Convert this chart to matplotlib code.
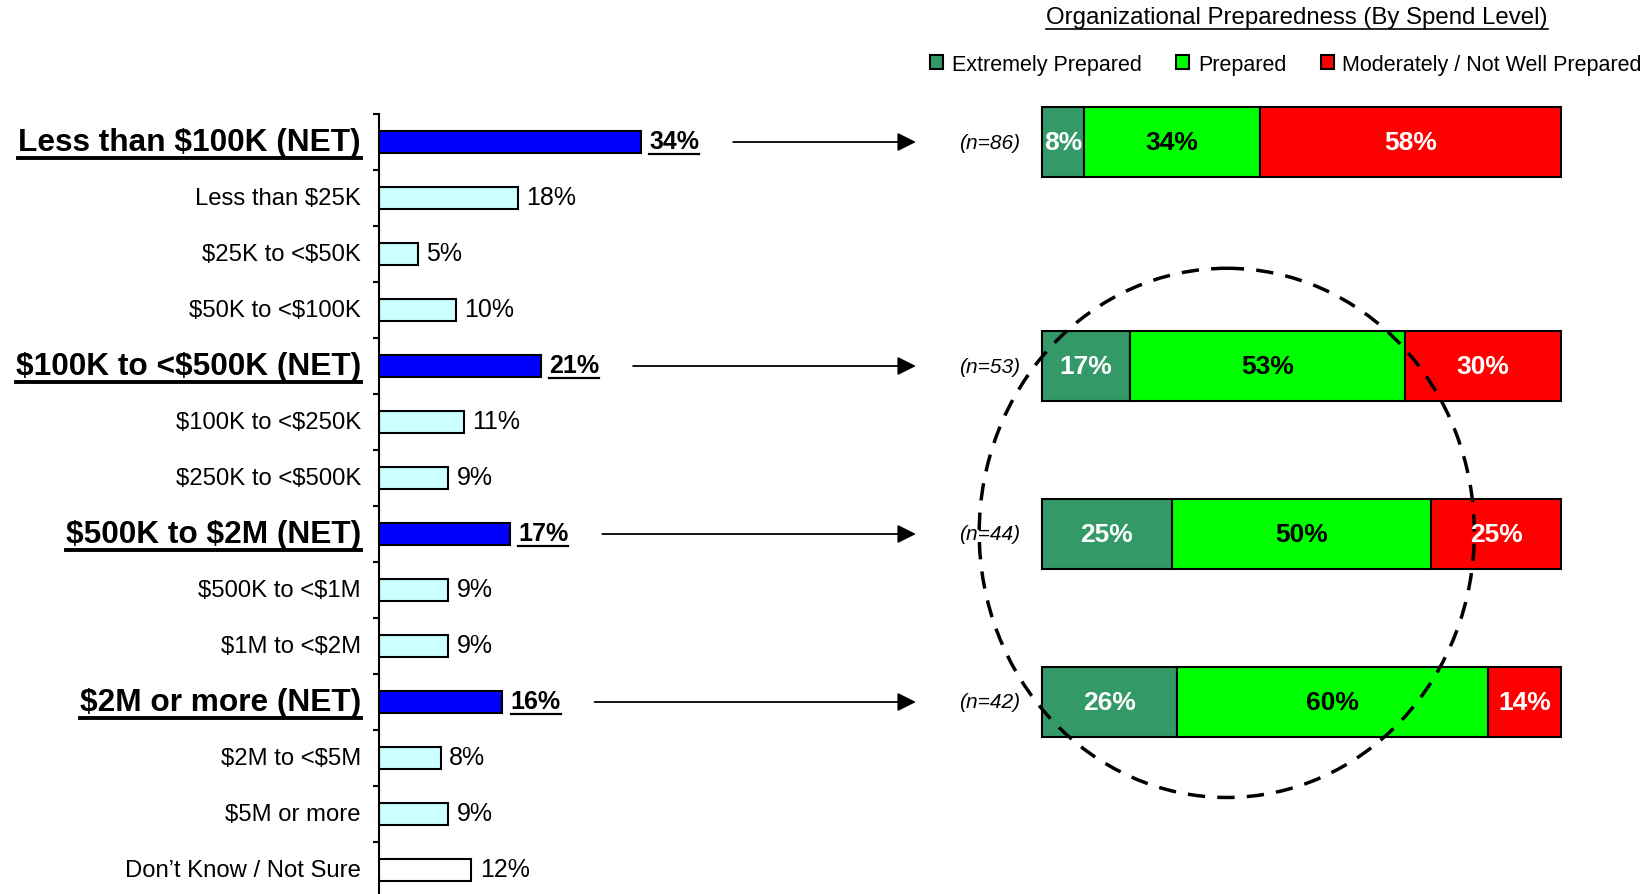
import matplotlib
matplotlib.use("Agg")
import matplotlib.pyplot as plt
from matplotlib.patches import Patch, Ellipse
from matplotlib.lines import Line2D

plt.rcParams['font.family'] = ['Liberation Sans', 'DejaVu Sans']
plt.rcParams['text.parse_math'] = False

# spend level breakdown (left panel)
spend_labels = ["Less than $100K (NET)", "Less than $25K", "$25K to <$50K", "$50K to <$100K",
                "$100K to <$500K (NET)", "$100K to <$250K", "$250K to <$500K",
                "$500K to $2M (NET)", "$500K to <$1M", "$1M to <$2M",
                "$2M or more (NET)", "$2M to <$5M", "$5M or more",
                "Don\u2019t Know / Not Sure"]
spend_values = [34, 18, 5, 10, 21, 11, 9, 17, 9, 9, 16, 8, 9, 12]
net_rows = [0, 4, 7, 10]

# preparedness by spend level (right panel)
sample_sizes = [86, 53, 44, 42]
extremely = [8, 17, 25, 26]
prepared = [34, 53, 50, 60]
moderately = [58, 30, 25, 14]
prep_names = ["Extremely Prepared", "Prepared", "Moderately / Not Well Prepared"]
prep_colors = ["#339966", "#00FF00", "#FF0000"]
prep_text = ["white", "black", "white"]

W, H = 1652, 895
fig = plt.figure(figsize=(W / 100, H / 100), dpi=100)

row_px = 56.0
first_row = 143
top_px = first_row - row_px / 2
ymax = (H - first_row) / row_px
ax_h = (H - top_px) / H

px_per_pct = 7.7
ax1 = fig.add_axes([379 / W, 0, 40 * px_per_pct / W, ax_h])
ax1.set_xlim(0, 40)
ax1.set_ylim(ymax, -0.5)

rows = list(range(len(spend_values)))
colors = []
for i in rows:
    if i in net_rows:
        colors.append("#0000FF")
    elif i == len(rows) - 1:
        colors.append("white")
    else:
        colors.append("#CCFFFF")
ax1.barh(rows, spend_values, height=0.4, color=colors, edgecolor="black", linewidth=1.5)

for s in ["top", "right", "bottom"]:
    ax1.spines[s].set_visible(False)
ax1.spines["left"].set_linewidth(1.5)
ax1.set_xticks([])
ax1.set_yticks([i - 0.5 for i in range(len(rows))])
ax1.set_yticklabels([])
ax1.tick_params(axis="y", direction="out", length=4, width=1.5)

underline = []
for i, (lab, v) in enumerate(zip(spend_labels, spend_values)):
    net = i in net_rows
    t = ax1.annotate(lab, xy=(0, i), xycoords=("axes fraction", "data"),
                     xytext=(-13, 0), textcoords="offset points",
                     ha="right", va="center",
                     fontsize=22.8 if net else 17.2, fontweight="bold" if net else "normal")
    v_t = ax1.annotate(f"{v}%", xy=(v, i), xytext=(6, 1), textcoords="offset points",
                       ha="left", va="center", fontsize=18,
                       fontweight="bold" if net else "normal")
    if net:
        underline.append((t, 2.8))
        underline.append((v_t, 1.6))

# stacked preparedness bars
ax2 = fig.add_axes([1042 / W, 0, 519 / W, ax_h])
ax2.set_xlim(0, 100)
ax2.set_ylim(ymax, -0.5)
ax2.axis("off")

segments = [extremely, prepared, moderately]
left = [0] * len(net_rows)
for seg, name, c, tc in zip(segments, prep_names, prep_colors, prep_text):
    ax2.barh(net_rows, seg, left=left, height=1.25, color=c, edgecolor="black",
             linewidth=1.5, label=name, clip_on=False)
    for y, l, v in zip(net_rows, left, seg):
        ax2.text(l + v / 2, y, f"{v}%", ha="center", va="center", color=tc,
                 fontsize=19, fontweight="bold")
    left = [a + b for a, b in zip(left, seg)]

for y, n in zip(net_rows, sample_sizes):
    ax2.annotate(f"(n={n})", xy=(0, y), xytext=(-16, 0), textcoords="offset points",
                 ha="right", va="center", fontsize=15, fontstyle="italic")

# arrows linking NET rows to their preparedness bars
for y in net_rows:
    ax2.annotate("", xy=(-24.3, y), xycoords="data",
                 xytext=(spend_values[y] + 12, y), textcoords=ax1.transData,
                 annotation_clip=False,
                 arrowprops=dict(arrowstyle="-|>", color="black", lw=1.3,
                                 mutation_scale=28, shrinkA=0, shrinkB=0))

ax2.add_patch(Ellipse((35.6, 6.98), 95.4, 9.45, fill=False, edgecolor="black",
                      linestyle=(0, (5, 3.5)), linewidth=2.5, clip_on=False))

title = fig.text(1297 / W, 1 - 18 / H, "Organizational Preparedness (By Spend Level)",
                 ha="center", va="center", fontsize=17.3)
underline.append((title, 1.2))

handles = [Patch(facecolor=c, edgecolor="black", linewidth=1.5) for c in prep_colors]
fig.legend(handles, prep_names, loc="center", bbox_to_anchor=(1286 / W, 1 - 65 / H),
           ncol=3, frameon=False, fontsize=15.5, handlelength=0.6, handleheight=0.6,
           handletextpad=0.4, columnspacing=1.6, borderaxespad=0)

# underline the emphasised texts
fig.canvas.draw()
renderer = fig.canvas.get_renderer()
inv = fig.transFigure.inverted()
for t, lw in underline:
    bb = t.get_window_extent(renderer)
    (x0, y0), (x1, _) = inv.transform([(bb.x0, bb.y0 - 1), (bb.x1, bb.y0 - 1)])
    fig.add_artist(Line2D([x0, x1], [y0, y0], color="black", linewidth=lw,
                          transform=fig.transFigure))

fig.savefig("out.png", dpi=100)
